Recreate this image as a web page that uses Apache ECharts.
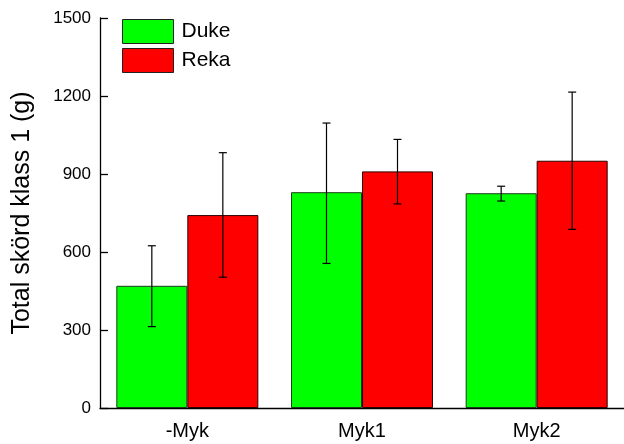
<!DOCTYPE html>
<html>
<head>
<meta charset="utf-8">
<script src="https://cdn.jsdelivr.net/npm/echarts@6/dist/echarts.min.js"></script>
<style>html,body{margin:0;padding:0;background:#fff}#c{width:624px;height:444px}</style>
</head>
<body>
<div id="c"></div>
<script>
var categories = ['-Myk', 'Myk1', 'Myk2'];
var dukeMean = [470, 830, 826];
var dukeLow = [313, 556, 796];
var dukeHigh = [624, 1096, 853];
var rekaMean = [742, 910, 951];
var rekaLow = [503, 785, 687];
var rekaHigh = [982, 1033, 1215];
var yTicks = [0, 300, 600, 900, 1200, 1500];

var FONT = 'Liberation Sans, Arial, sans-serif';
var BAR_W = 71;

function errData(low, high) {
  return categories.map(function (c, i) { return [i, low[i], high[i]]; });
}
function errSeries(name, low, high, offset) {
  return {
    type: 'custom',
    name: name + ' err',
    z: 5,
    data: errData(low, high),
    renderItem: function (params, api) {
      var lo = api.coord([api.value(0), api.value(1)]);
      var hi = api.coord([api.value(0), api.value(2)]);
      var x = lo[0] + offset;
      var cap = 4;
      var st = { stroke: '#000', lineWidth: 1.2 };
      return {
        type: 'group',
        children: [
          { type: 'line', shape: { x1: x, y1: lo[1], x2: x, y2: hi[1] }, style: st },
          { type: 'line', shape: { x1: x - cap, y1: lo[1], x2: x + cap, y2: lo[1] }, style: st },
          { type: 'line', shape: { x1: x - cap, y1: hi[1], x2: x + cap, y2: hi[1] }, style: st }
        ]
      };
    },
    tooltip: { show: false }
  };
}

var chart = echarts.init(document.getElementById('c'));
chart.setOption({
  animation: false,
  backgroundColor: '#fff',
  grid: { left: 100, top: 18, width: 530, height: 390, containLabel: false },
  legend: {
    orient: 'vertical',
    left: 122, top: 19, padding: 0,
    itemWidth: 51, itemHeight: 24, itemGap: 4,
    icon: 'rect',
    data: ['Duke', 'Reka'],
    textStyle: { fontFamily: FONT, fontSize: 21, color: '#000', padding: [0, 0, 0, 3] },
    itemStyle: { borderColor: '#222', borderWidth: 1 }
  },
  xAxis: {
    type: 'category',
    data: categories,
    axisLine: { lineStyle: { color: '#000', width: 1.3 } },
    axisTick: { show: false },
    axisLabel: { color: '#000', fontFamily: FONT, fontSize: 20, margin: 13 }
  },
  yAxis: {
    type: 'value',
    min: 0, max: 1500, interval: 300,
    name: 'Total skörd klass 1 (g)',
    nameLocation: 'middle',
    nameGap: 65,
    nameTextStyle: { fontFamily: FONT, fontSize: 25, color: '#000' },
    splitLine: { show: false },
    axisLine: { show: true, lineStyle: { color: '#000', width: 1.3 } },
    axisTick: { show: true, inside: true, length: 8, lineStyle: { color: '#000', width: 1.3 } },
    axisLabel: {
      color: '#000', fontFamily: FONT, fontSize: 17, margin: 9,
      formatter: function (v) { return yTicks.indexOf(v) >= 0 ? String(v) : ''; }
    }
  },
  series: [
    { name: 'Duke', type: 'bar', data: dukeMean, barWidth: BAR_W, barGap: '0%',
      itemStyle: { color: '#00ff00', borderColor: '#1c3a1c', borderWidth: 1 } },
    { name: 'Reka', type: 'bar', data: rekaMean, barWidth: BAR_W, barGap: '0%',
      itemStyle: { color: '#ff0000', borderColor: '#2a0000', borderWidth: 1 } },
    errSeries('Duke', dukeLow, dukeHigh, -BAR_W / 2),
    errSeries('Reka', rekaLow, rekaHigh, BAR_W / 2)
  ]
});
</script>
</body>
</html>
